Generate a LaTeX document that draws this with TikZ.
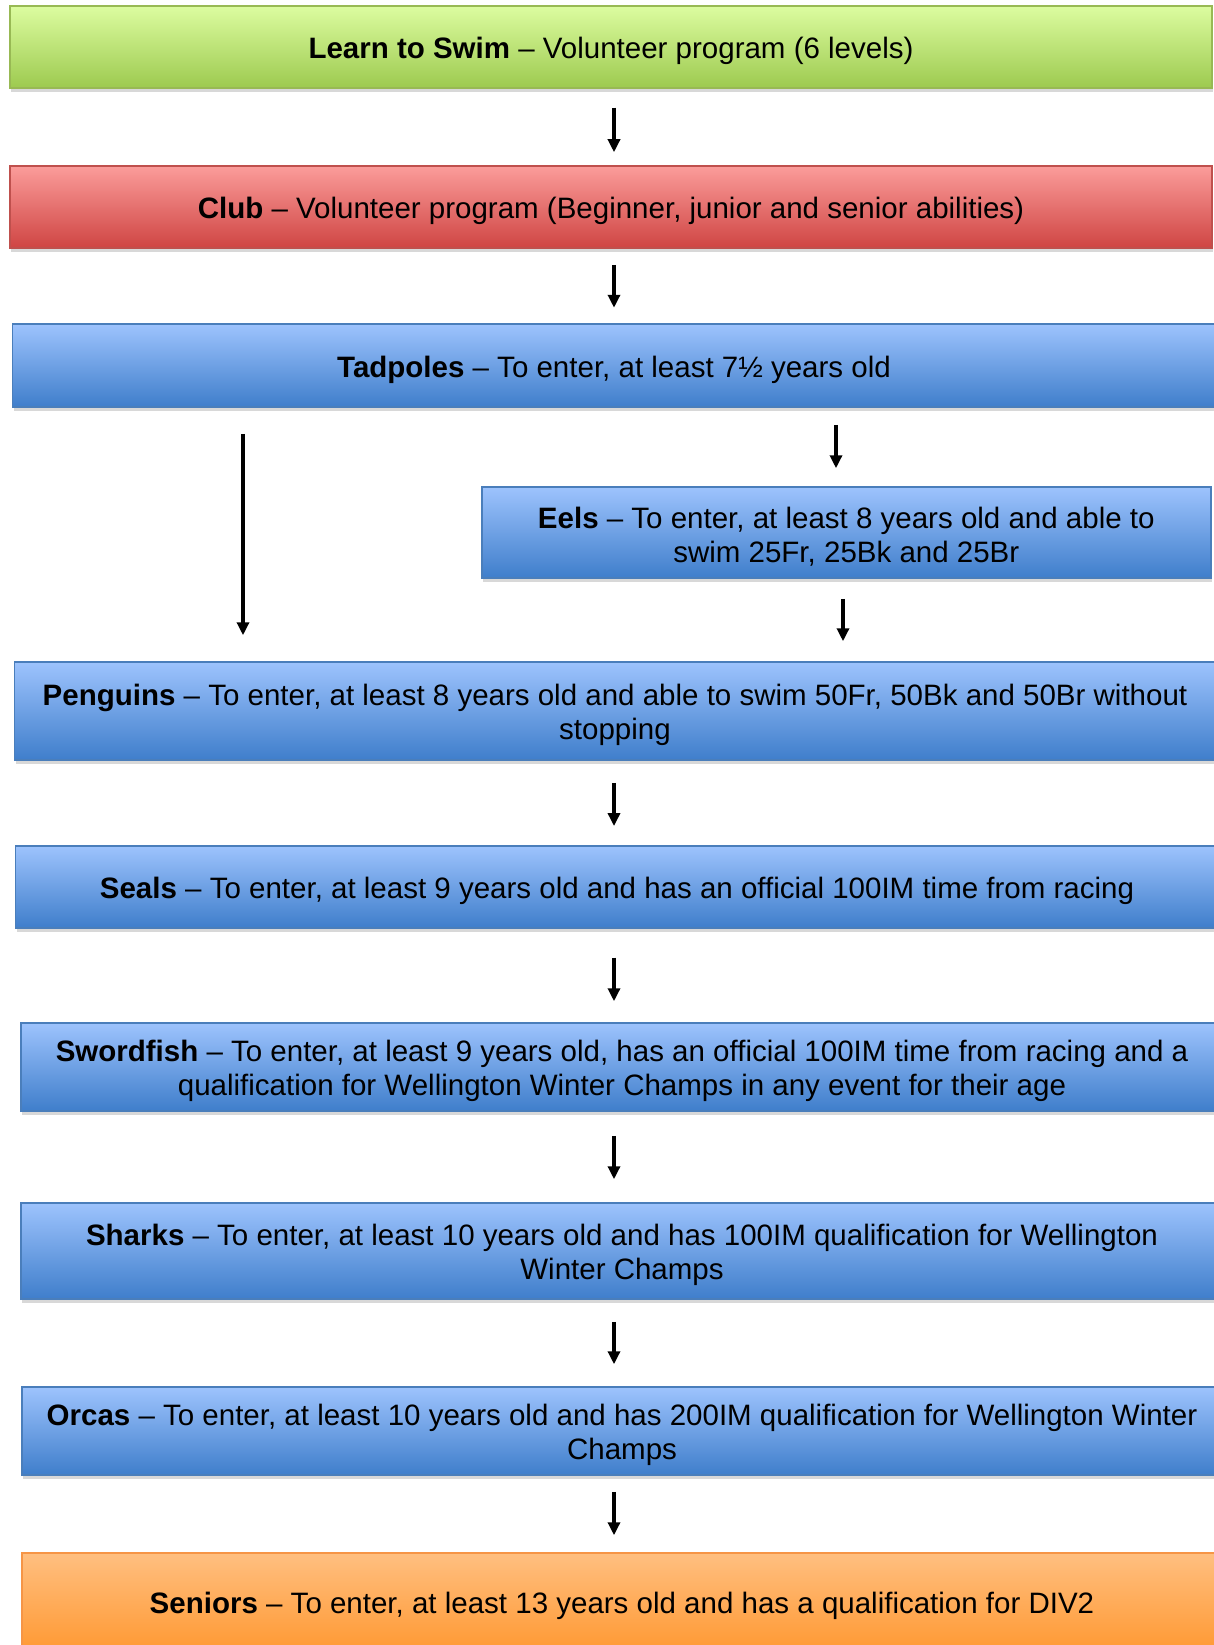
\documentclass[tikz,border=0pt]{standalone}
\usepackage{fontspec}
\setmainfont{Liberation Sans}
\usetikzlibrary{arrows.meta,shadows}
\definecolor{gtop}{RGB}{220,252,160}
\definecolor{gbot}{RGB}{157,202,79}
\definecolor{gdraw}{RGB}{152,185,84}
\definecolor{rtop}{RGB}{251,156,154}
\definecolor{rbot}{RGB}{207,69,67}
\definecolor{rdraw}{RGB}{191,80,77}
\definecolor{btop}{RGB}{157,195,253}
\definecolor{bbot}{RGB}{63,126,203}
\definecolor{bdraw}{RGB}{74,126,187}
\definecolor{otop}{RGB}{255,191,128}
\definecolor{obot}{RGB}{255,153,51}
\definecolor{odraw}{RGB}{246,149,70}
\begin{document}
\begin{tikzpicture}[x=1pt,y=-1pt,
  txt/.style={align=center, inner sep=0pt, yshift=-4pt,
    font=\fontsize{29.5}{33.7}\selectfont},
  box/.style={draw, line width=1.5pt, inner sep=0pt,
    drop shadow={shadow xshift=1pt, shadow yshift=-4pt, opacity=0.3}},
  greenbox/.style={box, draw=gdraw, top color=gtop, bottom color=gbot},
  redbox/.style={box, draw=rdraw, top color=rtop, bottom color=rbot},
  bluebox/.style={box, draw=bdraw, top color=btop, bottom color=bbot},
  orangebox/.style={box, draw=odraw, top color=otop, bottom color=obot},
  flow/.style={line width=4pt, -{Triangle[width=12pt,length=13pt]}}]
\useasboundingbox (0,0) rectangle (1213,1645);
\fill[white] (0,0) rectangle (1213,1645);

\node[greenbox, minimum width=1202pt, minimum height=82pt,
  label={[txt]center:{\textbf{Learn to Swim} – Volunteer program (6 levels)}}] (learn) at (611,47) {};
\node[redbox, minimum width=1202pt, minimum height=82pt,
  label={[txt]center:{\textbf{Club} – Volunteer program (Beginner, junior and senior abilities)}}] (club) at (611,207) {};
\node[bluebox, minimum width=1203pt, minimum height=83pt,
  label={[txt]center:{\textbf{Tadpoles} – To enter, at least 7½ years old}}] (tad) at (614,365.5) {};
\node[bluebox, minimum width=729pt, minimum height=91pt,
  label={[txt]center:{\textbf{Eels} – To enter, at least 8 years old and able to\\ swim 25Fr, 25Bk and 25Br}}] (eels) at (846.3,532.5) {};
\node[bluebox, minimum width=1201pt, minimum height=98pt,
  label={[txt]center:{\textbf{Penguins} – To enter, at least 8 years old and able to swim 50Fr, 50Bk and 50Br without\\ stopping}}] (peng) at (615,711) {};
\node[bluebox, minimum width=1203pt, minimum height=82pt,
  label={[txt]center:{\textbf{Seals} – To enter, at least 9 years old and has an official 100IM time from racing}}] (seals) at (617,886.8) {};
\node[bluebox, minimum width=1202pt, minimum height=88pt,
  label={[txt]center:{\textbf{Swordfish} – To enter, at least 9 years old, has an official 100IM time from racing and a\\ qualification for Wellington Winter Champs in any event for their age}}] (sword) at (622,1067) {};
\node[bluebox, minimum width=1202pt, minimum height=96pt,
  label={[txt]center:{\textbf{Sharks} – To enter, at least 10 years old and has 100IM qualification for Wellington\\ Winter Champs}}] (sharks) at (622,1251) {};
\node[bluebox, minimum width=1200pt, minimum height=88pt,
  label={[txt]center:{\textbf{Orcas} – To enter, at least 10 years old and has 200IM qualification for Wellington Winter\\ Champs}}] (orcas) at (622,1431) {};
\node[orangebox, minimum width=1200pt, minimum height=98pt,
  label={[txt]center:{\textbf{Seniors} – To enter, at least 13 years old and has a qualification for DIV2}}] (seniors) at (622,1602) {};

\coordinate (mx) at (614,0);
\coordinate (lx) at (243,0);
\coordinate (ex) at (836,0);
\coordinate (fx) at (843,0);

\draw[flow, shorten <=19pt, shorten >=13pt] (learn.south -| mx) -- (club.north -| mx);
\draw[flow, shorten <=16pt, shorten >=15.5pt] (club.south -| mx) -- (tad.north -| mx);
\draw[flow, shorten <=26pt, shorten >=26pt] (tad.south -| lx) -- (peng.north -| lx);
\draw[flow, shorten <=17pt, shorten >=18pt] (tad.south -| ex) -- (eels.north -| ex);
\draw[flow, shorten <=20pt, shorten >=20pt] (eels.south -| fx) -- (peng.north -| fx);
\draw[flow, shorten <=22pt, shorten >=19pt] (peng.south -| mx) -- (seals.north -| mx);
\draw[flow, shorten <=29pt, shorten >=21pt] (seals.south -| mx) -- (sword.north -| mx);
\draw[flow, shorten <=24pt, shorten >=23pt] (sword.south -| mx) -- (sharks.north -| mx);
\draw[flow, shorten <=22pt, shorten >=22pt] (sharks.south -| mx) -- (orcas.north -| mx);
\draw[flow, shorten <=16pt, shorten >=17pt] (orcas.south -| mx) -- (seniors.north -| mx);
\end{tikzpicture}
\end{document}
